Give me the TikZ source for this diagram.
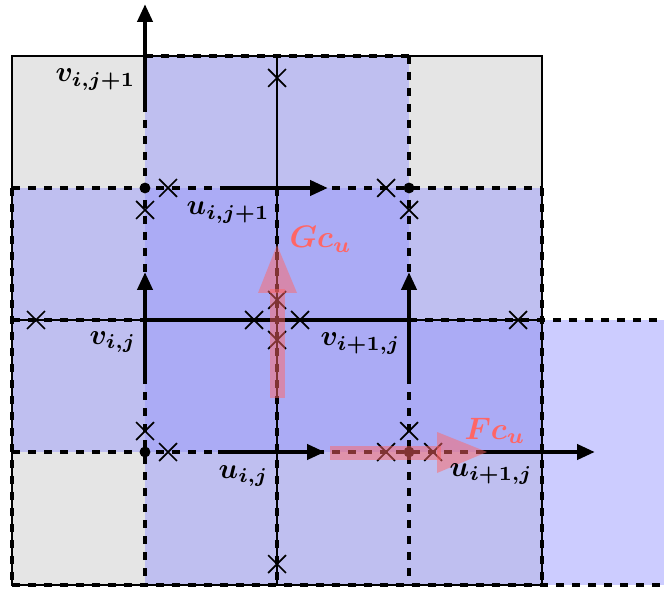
\documentclass[tikz,border=0pt]{standalone}
\usepackage{amsmath,amsbsy}
\usetikzlibrary{arrows.meta,shapes.misc}
\definecolor{cgray}{HTML}{E5E5E5}
\definecolor{clav}{HTML}{BFBFF0}
\definecolor{cdark}{HTML}{ABABF5}
\definecolor{clight}{HTML}{CCCCFF}
\colorlet{cred}{red!60}
\newcommand{\lbl}[1]{\scalebox{0.9}{$\boldsymbol{#1}$}}
\newcommand{\rlbl}[1]{\scalebox{0.97}{$\boldsymbol{#1}$}}
\begin{document}
\begin{tikzpicture}[x=0.3125pt,y=-0.3125pt,
  gridline/.style={line width=0.55pt},
  cvline/.style={line width=1.4pt,dash pattern=on 2.6pt off 2.4pt},
  segline/.style={line width=1.4pt},
  vel/.style={line width=1.45pt,-{Triangle[length=5.6pt,width=4.6pt]}},
  xmark/.style={draw,cross out,line width=0.55pt,minimum size=5pt,inner sep=0pt},
  ptdot/.style={circle,fill,inner sep=0pt,minimum size=3.4pt},
  redarrow/.style={fill=cred,opacity=0.5},
  lab/.style={anchor=base west,inner sep=0pt},
]
\useasboundingbox (0,0) rectangle (664,588);
% cell fills
\fill[cgray] (12,56) rectangle (145,188);
\fill[cgray] (409,56) rectangle (542,188);
\fill[cgray] (12,452) rectangle (145,585);
\fill[clav] (145,56) rectangle (409,188);
\fill[clav] (12,188) rectangle (145,452);
\fill[clav] (409,188) rectangle (542,320);
\fill[clav] (145,452) rectangle (542,585);
\fill[cdark] (145,188) rectangle (409,452);
\fill[cdark] (409,320) rectangle (542,452);
\fill[clight] (542,320) rectangle (664,585);
% primary grid
\draw[gridline] (12,56) rectangle (542,585);
\draw[gridline] (277,56) -- (277,585);
\draw[gridline] (12,320) -- (542,320);
% control volume lines
\draw[cvline] (145,56) -- (409,56);
\draw[cvline] (12,188) -- (542,188);
\draw[cvline] (12,320) -- (145,320);
\draw[cvline] (409,320) -- (664,320);
\draw[cvline] (12,452) -- (542,452);
\draw[cvline] (12,585) -- (664,585);
\draw[cvline] (12,188) -- (12,585);
\draw[cvline] (145,56) -- (145,585);
\draw[cvline] (277,188) -- (277,585);
\draw[cvline] (409,56) -- (409,585);
\draw[cvline] (542,188) -- (542,585);
\draw[segline] (145,320) -- (409,320);
% velocity arrows
\coordinate (a1s) at (145,110); \coordinate (a1e) at (145,4);
\coordinate (a2s) at (225,188); \coordinate (a2e) at (328,188);
\coordinate (a3s) at (145,377); \coordinate (a3e) at (145,272);
\coordinate (a4s) at (409,377); \coordinate (a4e) at (409,272);
\coordinate (a5s) at (218,452); \coordinate (a5e) at (325,452);
\coordinate (a6s) at (483,452); \coordinate (a6e) at (595,452);
\draw[vel] (a1s) -- (a1e);
\draw[vel] (a2s) -- (a2e);
\draw[vel] (a3s) -- (a3e);
\draw[vel] (a4s) -- (a4e);
\draw[vel] (a5s) -- (a5e);
\draw[vel] (a6s) -- (a6e);
% crosses
\node[xmark] (x1) at (277,78) {};
\node[xmark] (x2) at (168,188) {};
\node[xmark] (x3) at (145,210) {};
\node[xmark] (x4) at (386,188) {};
\node[xmark] (x5) at (409,210) {};
\node[xmark] (x6) at (36,320) {};
\node[xmark] (x7) at (254,320) {};
\node[xmark] (x8) at (300,320) {};
\node[xmark] (x9) at (518,320) {};
\node[xmark] (x10) at (277,300) {};
\node[xmark] (x11) at (277,340) {};
\node[xmark] (x12) at (145,431) {};
\node[xmark] (x13) at (168,452) {};
\node[xmark] (x14) at (409,431) {};
\node[xmark] (x15) at (386,452) {};
\node[xmark] (x16) at (433,452) {};
\node[xmark] (x17) at (277,564) {};
% dots
\node[ptdot] (d1) at (145,188) {};
\node[ptdot] (d2) at (409,188) {};
\node[ptdot] (d3) at (145,452) {};
\node[ptdot] (d4) at (409,452) {};
% red flux arrows
\fill[redarrow] (270,398) rectangle (285,289);
\fill[redarrow] (258,293) -- (297,293) -- (277,245) -- cycle;
\fill[redarrow] (330,446) rectangle (441,460);
\fill[redarrow] (437,432) -- (437,473) -- (487,452) -- cycle;
% labels
\node[lab] (lv1) at (55,82) {\lbl{v_{i,j+1}}};
\node[lab] (lu1) at (186,215) {\lbl{u_{i,j+1}}};
\node[lab,text=cred] (lG) at (289,248) {\rlbl{Gc_u}};
\node[lab] (lv2) at (89,344) {\lbl{v_{i,j}}};
\node[lab] (lv3) at (320,346) {\lbl{v_{i+1,j}}};
\node[lab,text=cred] (lF) at (464,439) {\rlbl{Fc_u}};
\node[lab] (lu2) at (218,478) {\lbl{u_{i,j}}};
\node[lab] (lu3) at (449,476) {\lbl{u_{i+1,j}}};
\end{tikzpicture}
\end{document}
